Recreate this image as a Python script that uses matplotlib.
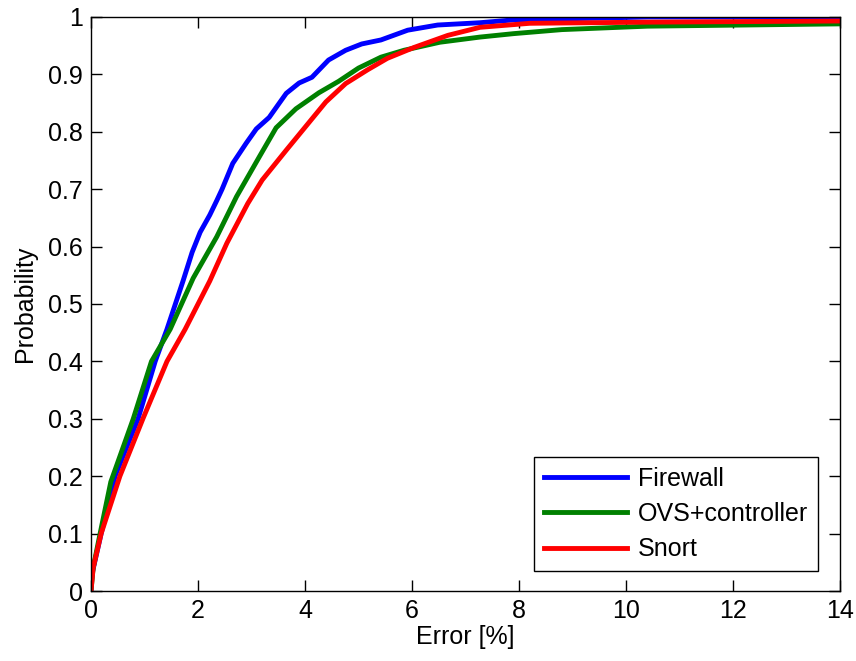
import numpy as np
import matplotlib
matplotlib.use("Agg")
import matplotlib.pyplot as plt

plt.rcParams['font.family'] = ['Liberation Sans', 'DejaVu Sans']

# CDF points (error %, probability)
fw_x = [0, 0.02, 0.19, 0.45, 0.88, 1.2, 1.42, 1.72, 1.89, 2.04, 2.22, 2.35, 2.45, 2.65, 2.9,
        3.09, 3.33, 3.52, 3.65, 3.89, 4.13, 4.44, 4.76, 5.06, 5.42, 5.92, 6.48, 7.27, 7.9,
        8.5, 10.4, 14]
fw_y = [0, 0.03, 0.1, 0.2, 0.3, 0.4, 0.456, 0.54, 0.59, 0.625, 0.655, 0.68, 0.70, 0.745, 0.78,
        0.805, 0.825, 0.85, 0.867, 0.885, 0.895, 0.925, 0.942, 0.953, 0.96, 0.977, 0.986, 0.99,
        0.995, 0.996, 1.0, 1.0]

ovs_x = [0, 0.04, 0.17, 0.37, 0.79, 1.13, 1.48, 1.91, 2.35, 2.72, 3.15, 3.46, 3.83, 4.26,
         4.63, 5.0, 5.42, 5.85, 6.52, 7.27, 7.9, 8.8, 10.4, 14]
ovs_y = [0, 0.04, 0.1, 0.19, 0.3, 0.4, 0.456, 0.545, 0.617, 0.687, 0.757, 0.807, 0.84, 0.868,
         0.888, 0.911, 0.93, 0.942, 0.956, 0.965, 0.971, 0.978, 0.984, 0.988]

snort_x = [0, 0.04, 0.19, 0.54, 0.97, 1.42, 1.76, 2.22, 2.54, 2.93, 3.2, 3.65, 4.02, 4.39,
           4.76, 5.17, 5.54, 6.04, 6.67, 7.27, 8.2, 10.4, 14]
snort_y = [0, 0.04, 0.1, 0.2, 0.3, 0.4, 0.456, 0.54, 0.606, 0.675, 0.716, 0.768, 0.81, 0.852,
           0.884, 0.908, 0.928, 0.947, 0.968, 0.982, 0.989, 0.991, 0.993]

fig = plt.figure(figsize=(8.56, 6.61), dpi=100)
ax = fig.add_axes([0.1063, 0.1059, 0.875, 0.8684])

ax.plot(fw_x, fw_y, color='#0000ff', lw=3.5, label='Firewall')
ax.plot(ovs_x, ovs_y, color='#008000', lw=3.5, label='OVS+controller')
ax.plot(snort_x, snort_y, color='#ff0000', lw=3.5, label='Snort')

ax.set_xlim(0, 14)
ax.set_ylim(0, 1)
ax.set_xticks(np.arange(0, 15, 2))
ax.set_yticks(np.arange(0, 1.01, 0.1))
ax.set_yticklabels(['0', '0.1', '0.2', '0.3', '0.4', '0.5', '0.6', '0.7', '0.8', '0.9', '1'])
ax.tick_params(direction='in', length=8, width=1, top=True, right=True, labelsize=18, pad=6)
for s in ax.spines.values():
    s.set_linewidth(1)

ax.set_xlabel('Error [%]', fontsize=18, labelpad=1)
ax.set_ylabel('Probability', fontsize=18, labelpad=8)

leg = ax.legend(loc='lower right', fontsize=18, fancybox=False, framealpha=1,
                edgecolor='black', borderpad=0.4, handlelength=3.3, handletextpad=0.45,
                labelspacing=0.45, borderaxespad=0, bbox_to_anchor=(0.971, 0.034))
leg.get_frame().set_linewidth(1)

fig.savefig('out.png', dpi=100)
